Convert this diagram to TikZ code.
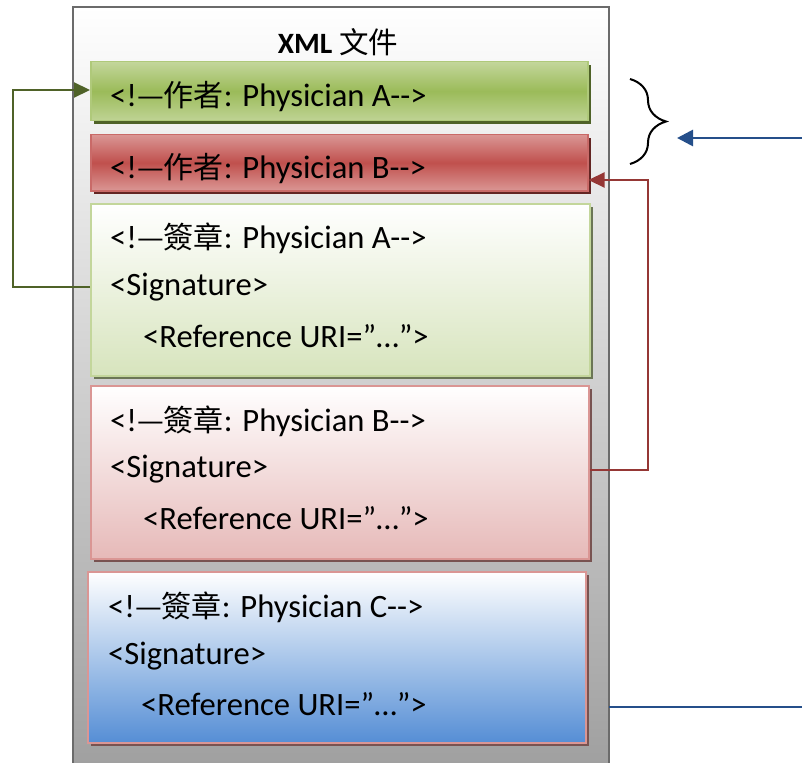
\documentclass[tikz,border=0pt]{standalone}
\usepackage{fontspec}
\setmainfont{Carlito}
\newfontfamily\cjk{Noto Sans CJK TC}
\usetikzlibrary{arrows.meta,decorations.pathreplacing}
\definecolor{gA}{HTML}{9BBB59}
\definecolor{gL}{HTML}{C3D69B}
\definecolor{gD}{HTML}{4F6228}
\definecolor{rA}{HTML}{C0504D}
\definecolor{rL}{HTML}{DA9694}
\definecolor{rD}{HTML}{632523}
\definecolor{rC}{HTML}{953735}
\definecolor{sG}{HTML}{D7E4BD}
\definecolor{sR}{HTML}{E6B9B8}
\definecolor{sB}{HTML}{558ED5}
\definecolor{bC}{HTML}{254F8A}
\tikzset{
  txt/.style={anchor=west, inner sep=0pt, font=\fontsize{32.6}{34}\selectfont},
  box/.style={draw, line width=1.5pt, inner sep=0pt, anchor=north west},
}
\newcommand{\cmt}[2]{<!{\cjk\fontsize{30}{32}\selectfont —#1}: Physician #2-\kern0pt-\kern0pt>}
\begin{document}
\begin{tikzpicture}[x=1pt,y=-1pt]
\useasboundingbox (0,0) rectangle (802,762);
\begin{scope}
\clip (0,0) rectangle (802,762);
% outer document
\shade[top color=white, bottom color=black!38, draw=black!58, line width=2.5pt]
  (73,7) rectangle (609,780);
\end{scope}
\node[font=\fontsize{29.5}{31}\selectfont\bfseries] (title) at (338,42) {XML {\cjk\mdseries 文件}};
% shadows
\fill[gD] (94,65) rectangle (591,124);
\fill[rD] (94,138) rectangle (591,194);
\fill[black!45!gL] (94,207) rectangle (593,379);
\fill[black!45!rL] (94,389) rectangle (592,562);
\fill[black!45!rL] (91,575) rectangle (589,746);
% header boxes
\node[box, draw=gA!80!white, top color=gL, bottom color=gL!90!gA, middle color=gA,
  minimum width=497pt, minimum height=59pt] (h1) at (90,61) {};
\node[box, draw=rA!85!white, top color=rL, bottom color=rL, middle color=rA,
  minimum width=497pt, minimum height=56pt] (h2) at (90,134) {};
% signature boxes
\node[box, draw=gL, top color=white, bottom color=sG,
  minimum width=499pt, minimum height=172pt] (s1) at (90,203) {};
\node[box, draw=rL, top color=white, bottom color=sR,
  minimum width=498pt, minimum height=173pt] (s2) at (90,385) {};
\node[box, draw=rL, top color=white, bottom color=sB,
  minimum width=498pt, minimum height=171pt] (s3) at (87,571) {};
% texts
\node[txt] (t1) at (110,97) {\cmt{作者}{A}};
\node[txt] (t2) at (110,169) {\cmt{作者}{B}};
\node[txt] (a1) at (110,238) {\cmt{簽章}{A}};
\node[txt] (a2) at (110,287) {<Signature>};
\node[txt] (a3) at (143,336) {<Reference URI=”…”>};
\node[txt] (b1) at (110,421) {\cmt{簽章}{B}};
\node[txt] (b2) at (110,469) {<Signature>};
\node[txt] (b3) at (143,518) {<Reference URI=”…”>};
\node[txt] (c1) at (108,607) {\cmt{簽章}{C}};
\node[txt] (c2) at (108,656) {<Signature>};
\node[txt] (c3) at (141,704) {<Reference URI=”…”>};
% connectors
\coordinate (gl) at (13,287);
\coordinate (gt) at (13,90);
\draw[gD, line width=2.2pt, -{Triangle[length=16pt,width=15pt]}]
  (s1.west |- a2) -- (gl) -- (gt) -- (h1.west |- gt);
\coordinate (rr) at (648,470);
\coordinate (rt) at (648,180);
\draw[rC, line width=2.2pt, -{Triangle[length=16pt,width=15pt]}]
  (s2.east |- rr) -- (rr) -- (rt) -- (h2.east |- rt);
% brace
\coordinate (br1) at (630,79);
\coordinate (br2) at (630,164);
\draw[line width=2pt, decorate, decoration={brace, amplitude=36pt, raise=0pt, aspect=0.5}]
  (br1) -- (br2);
\coordinate (bs) at (802,138);
\coordinate (be) at (677,138);
\draw[bC, line width=2.8pt, -{Triangle[length=16pt,width=16pt]}] (bs) -- (be);
\coordinate (ls) at (609,707);
\coordinate (le) at (802,707);
\draw[bC, line width=2.8pt] (ls) -- (le);
\end{tikzpicture}
\end{document}
